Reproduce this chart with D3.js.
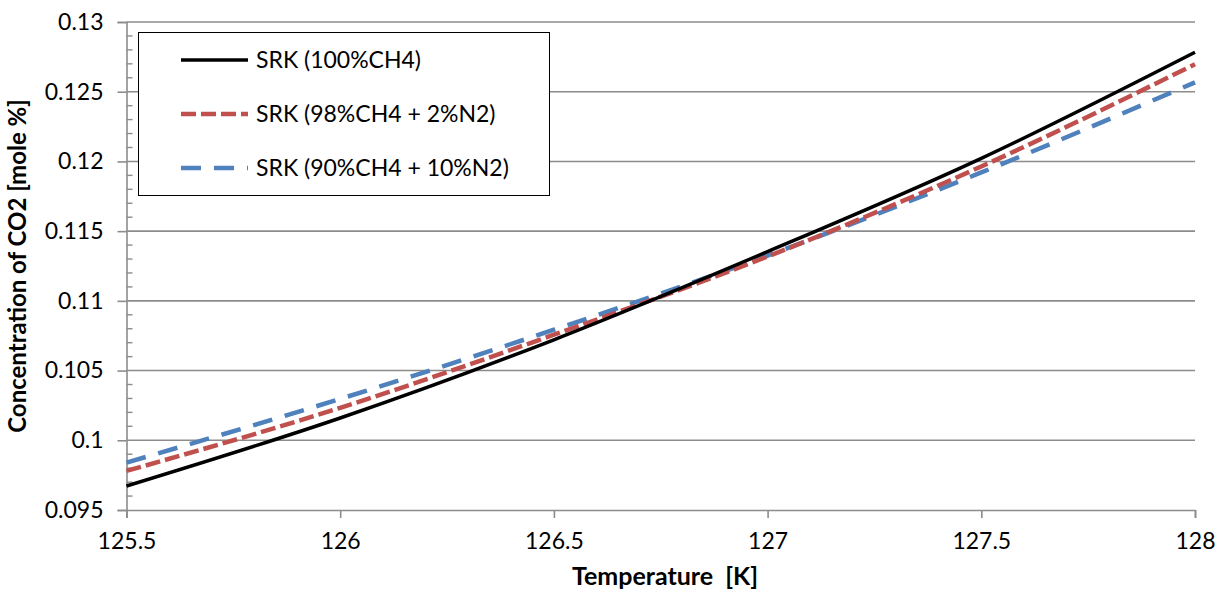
<!DOCTYPE html>
<html><head><meta charset="utf-8">
<script src="https://cdn.jsdelivr.net/npm/d3@7"></script>
<style>
html,body{margin:0;padding:0;background:#fff;}
text{font-family:Lato,"Open Sans",sans-serif;fill:#000;}
</style></head><body>
<svg id="c" width="1217" height="589"></svg>
<script>
const temps = [125.5, 126, 126.5, 127, 127.5, 128];
const srk100 = [0.09672, 0.10160, 0.10721, 0.11353, 0.12022, 0.12783];
const srk98 = [0.09780, 0.10233, 0.10757, 0.11318, 0.11964, 0.12697];
const srk90 = [0.09840, 0.10297, 0.10793, 0.11325, 0.11921, 0.12567];
const seriesNames = ["SRK (100%CH4)", "SRK (98%CH4 + 2%N2)", "SRK (90%CH4 + 10%N2)"];
const xTicks = [125.5, 126, 126.5, 127, 127.5, 128];
const yTicks = [0.095, 0.1, 0.105, 0.11, 0.115, 0.12, 0.125, 0.13];
const yMinorTicks = d3.range(95, 131).map(v => v / 1000);

const svg = d3.select("#c");
const L = 126.5, R = 1195, T = 22, B = 510;
const x = d3.scaleLinear().domain([125.5, 128]).range([L, R]);
const y = d3.scaleLinear().domain([0.095, 0.13]).range([B, T]);
const gridCol = "#8c8c8c";

// gridlines
svg.append("g").selectAll("line").data(yTicks.slice(1)).join("line")
  .attr("x1", L).attr("x2", R).attr("y1", d => y(d)).attr("y2", d => y(d))
  .attr("stroke", gridCol).attr("stroke-width", 1.6);

// y axis
const yAxis = d3.axisLeft(y).tickValues(yTicks).tickSize(9).tickPadding(14)
  .tickFormat(d => d3.format("")(+d.toFixed(3)));
const gy = svg.append("g").attr("transform", `translate(${L},0)`).call(yAxis);
gy.select(".domain").attr("stroke", gridCol).attr("stroke-width", 1.6);
gy.selectAll(".tick line").attr("stroke", gridCol).attr("stroke-width", 1.6);
gy.selectAll("text").attr("font-size", 23).style("font-family", "Lato");
// minor ticks
svg.append("g").selectAll("line").data(yMinorTicks.filter((d,i)=> i % 5 !== 0)).join("line")
  .attr("x1", L).attr("x2", L + 6).attr("y1", d => y(d)).attr("y2", d => y(d))
  .attr("stroke", gridCol).attr("stroke-width", 1.4);

// x axis
const xAxis = d3.axisBottom(x).tickValues(xTicks).tickSize(8).tickPadding(15)
  .tickFormat(d => String(d));
const gx = svg.append("g").attr("transform", `translate(0,${B})`).call(xAxis);
gx.select(".domain").attr("stroke", gridCol).attr("stroke-width", 1.6);
gx.selectAll(".tick line").attr("stroke", gridCol).attr("stroke-width", 1.6);
gx.selectAll("text").attr("font-size", 23).style("font-family", "Lato");

// lines
const styles = [
  {data: srk100, color: "#000000", width: 3.5, dash: null},
  {data: srk98, color: "#c0504d", width: 4.5, dash: "15,5"},
  {data: srk90, color: "#4f81bd", width: 4.5, dash: "20,13"}
];
const line = d3.line().x(d => x(d[0])).y(d => y(d[1])).curve(d3.curveMonotoneX);
[2, 1, 0].forEach(i => {
  const s = styles[i];
  svg.append("path").datum(temps.map((t, k) => [t, s.data[k]]))
    .attr("d", line).attr("fill", "none").attr("stroke", s.color)
    .attr("stroke-width", s.width).attr("stroke-dasharray", s.dash);
});

// legend
const lg = svg.append("g");
lg.append("rect").attr("x", 138.5).attr("y", 32.5).attr("width", 411).attr("height", 163)
  .attr("fill", "#fff").attr("stroke", "#000").attr("stroke-width", 1);
const rowsY = [60, 114, 168];
styles.forEach((s, i) => {
  lg.append("line").attr("x1", 181).attr("x2", 248).attr("y1", rowsY[i]).attr("y2", rowsY[i])
    .attr("stroke", s.color).attr("stroke-width", s.width).attr("stroke-dasharray", s.dash);
  lg.append("text").attr("x", 256).attr("y", rowsY[i]).attr("dy", "0.35em")
    .attr("font-size", 23).text(seriesNames[i]);
});

// axis titles
svg.append("text").attr("x", 665).attr("y", 585).attr("text-anchor", "middle")
  .style("white-space", "pre")
  .attr("font-size", 25).attr("font-weight", "bold").text("Temperature  [K]");
svg.append("text").attr("transform", "translate(26,266) rotate(-90)").attr("text-anchor", "middle")
  .attr("font-size", 24).attr("font-weight", "bold").text("Concentration of CO2 [mole %]");
</script></body></html>
